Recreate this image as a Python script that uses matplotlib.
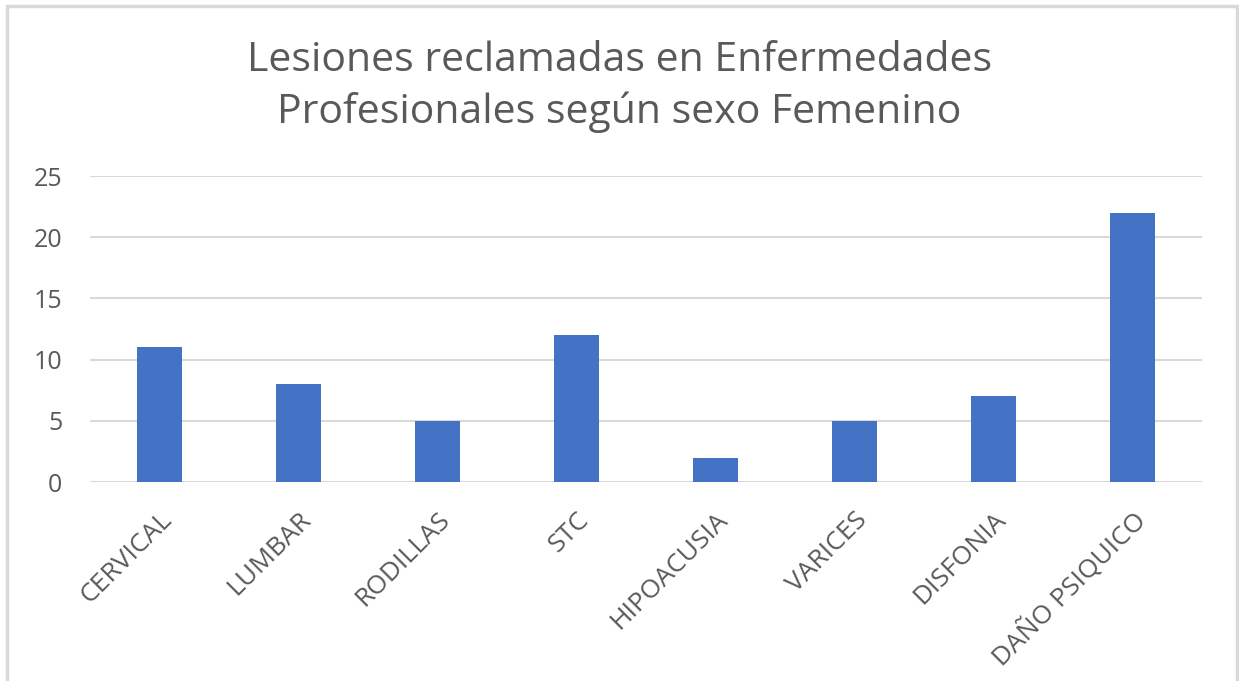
import matplotlib.pyplot as plt
from matplotlib.patches import Rectangle

categories = ["CERVICAL", "LUMBAR", "RODILLAS", "STC", "HIPOACUSIA",
              "VARICES", "DISFONIA", "DAÑO PSIQUICO"]
values = [11, 8, 5, 12, 2, 5, 7, 22]
yticks = [0, 5, 10, 15, 20, 25]

plt.rcParams['font.family'] = ['Open Sans', 'DejaVu Sans']

fig = plt.figure(figsize=(12.39, 6.81), dpi=100)
ax = fig.add_axes([90 / 1239, 1 - 482 / 681, 1112 / 1239, 306 / 681])

# outer chart frame
fig.patches.append(Rectangle((7 / 1239, -0.05), 1230 / 1239, 1.05 - 6 / 681,
                             transform=fig.transFigure, fill=False,
                             edgecolor='#d9d9d9', linewidth=2.5))

x = range(len(categories))
ax.bar(x, values, width=0.32, color='#4472C4', zorder=3)

ax.set_xlim(-0.5, len(categories) - 0.5)
ax.set_ylim(0, 25)
ax.set_yticks(yticks)
ax.yaxis.grid(True, color='#d9d9d9', linewidth=1.5, zorder=0)
ax.set_xticks(list(x))
ax.set_xticklabels(categories, rotation=45, ha='right', va='top',
                   rotation_mode='anchor', fontsize=19, color='#595959')
ax.tick_params(axis='y', labelsize=18, labelcolor='#595959', length=0, pad=20)
ax.tick_params(axis='x', length=0, pad=18)
for s in ax.spines.values():
    s.set_visible(False)

fig.text(0.5, 1 - 87 / 681, "Lesiones reclamadas en Enfermedades\nProfesionales según sexo Femenino",
         ha='center', va='center', fontsize=29.5, color='#595959', linespacing=1.33)

fig.savefig("out.png", dpi=100)
